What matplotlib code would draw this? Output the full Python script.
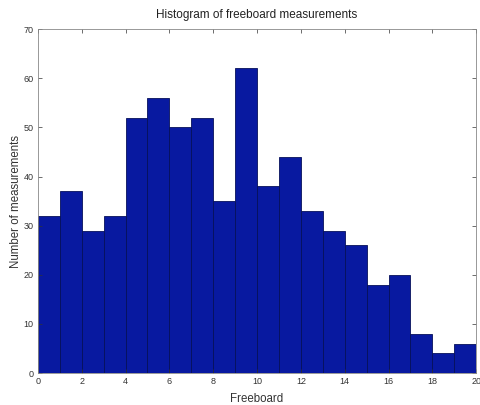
import matplotlib
matplotlib.use("Agg")
import matplotlib.pyplot as plt
import numpy as np

# bin edges and counts of the freeboard histogram
bin_edges = np.arange(0, 21, 1)
counts = [32, 37, 29, 32, 52, 56, 50, 52, 35, 62, 38, 44, 33, 29, 26, 18, 20, 8, 4, 6]
xticks = list(range(0, 21, 2))
yticks = list(range(0, 71, 10))

plt.rcParams['font.family'] = ['Liberation Sans', 'DejaVu Sans']

fig = plt.figure(figsize=(4.8, 4.05), dpi=100)
ax = fig.add_axes([0.079, 0.079, 0.913, 0.849])

ax.bar(bin_edges[:-1], counts, width=np.diff(bin_edges), align='edge',
       color='#0819a0', edgecolor='#06105a', linewidth=0.6)

ax.set_xlim(0, 20)
ax.set_ylim(0, 70)
ax.set_xticks(xticks)
ax.set_yticks(yticks)
ax.tick_params(direction='in', top=True, right=True, labelsize=6.5,
               length=3, width=0.5, colors='#333333', pad=3)
for sp in ax.spines.values():
    sp.set_linewidth(0.6)
    sp.set_color('#888888')

ax.set_title("Histogram of freeboard measurements", fontsize=8.5, color='#222222', pad=8)
ax.set_xlabel("Freeboard", fontsize=8.3, color='#333333', labelpad=5)
ax.set_ylabel("Number of measurements", fontsize=8.3, color='#333333', labelpad=1)

fig.savefig("out.png", dpi=100)
